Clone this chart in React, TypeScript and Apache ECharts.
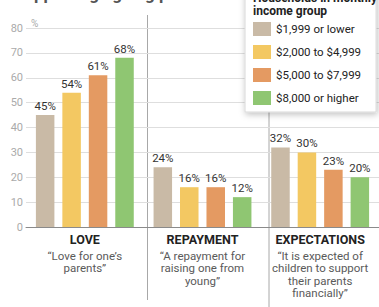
import React, { useEffect, useRef } from "react";
import * as echarts from "echarts";

const categories = ["LOVE", "REPAYMENT", "EXPECTATIONS"];
const descriptions = [
  ["\u201cLove for one\u2019s", "parents\u201d"],
  ["\u201cA repayment for", "raising one from", "young\u201d"],
  ["\u201cIt is expected of", "children to support", "their parents", "financially\u201d"],
];
const seriesNames = ["$1,999 or lower", "$2,000 to $4,999", "$5,000 to $7,999", "$8,000 or higher"];
const lowest = [45, 24, 32];
const lowerMid = [54, 16, 30];
const upperMid = [61, 16, 23];
const highest = [68, 12, 20];
const seriesValues = [lowest, lowerMid, upperMid, highest];
const colors = ["#c9baa6", "#f3c862", "#e49a62", "#8fc672"];
const yTicks = { min: 0, max: 80, interval: 10 };

const FONT = "Roboto";

export default function App() {
  const ref = useRef<HTMLDivElement>(null);
  useEffect(() => {
    if (!ref.current) return;
    const chart = echarts.init(ref.current, null, { renderer: "svg" });
    const gridLeft = 26;
    const gridWidth = 364.5;
    const catW = gridWidth / categories.length;
    const sep1 = gridLeft + catW;
    const sep2 = gridLeft + 2 * catW;
    chart.setOption({
      animation: false,
      textStyle: { fontFamily: FONT },
      grid: { left: gridLeft, width: gridWidth, top: 28, bottom: 80, containLabel: false },
      legend: {
        orient: "vertical",
        left: 245,
        top: -20,
        padding: [42, 15, 7, 8],
        itemWidth: 18,
        itemHeight: 14,
        itemGap: 9,
        backgroundColor: "#ffffff",
        borderColor: "#d8d8d8",
        borderWidth: 1,
        shadowBlur: 6,
        shadowColor: "rgba(0,0,0,0.25)",
        shadowOffsetX: 1,
        shadowOffsetY: 2,
        icon: "rect",
        textStyle: { fontFamily: FONT, fontSize: 11.5, color: "#222" },
        data: seriesNames,
      },
      xAxis: {
        type: "category",
        data: categories,
        axisLine: { lineStyle: { color: "#8a8a8a", width: 1 } },
        axisTick: { show: false },
        axisLabel: {
          interval: 0,
          margin: 5,
          formatter: (v: string) => {
            const i = categories.indexOf(v);
            return ["{t|" + v + "}", "{s| }", ...descriptions[i].map((l) => "{d|" + l + "}")].join("\n");
          },
          rich: {
            t: { fontFamily: FONT, fontWeight: "bold", fontSize: 12.5, color: "#222", lineHeight: 14 },
            s: { fontSize: 3, lineHeight: 3.7 },
            d: { fontFamily: FONT, fontSize: 11.5, color: "#5a5a5a", lineHeight: 12.5 },
          },
        },
      },
      yAxis: {
        type: "value",
        min: yTicks.min,
        max: yTicks.max,
        interval: yTicks.interval,
        name: "%",
        nameLocation: "end",
        nameGap: 0,
        nameTextStyle: { color: "#aaa", fontSize: 10, align: "left", padding: [0, 0, 0, 5] },
        axisLine: { show: false },
        axisTick: { show: false },
        axisLabel: { color: "#aaa", fontSize: 11, margin: 3 },
        splitLine: { lineStyle: { color: "#dedede", width: 1 } },
      },
      series: seriesNames.map((name, k) => ({
        name,
        type: "bar",
        data: seriesValues[k],
        barWidth: 18.5,
        barGap: "43%",
        itemStyle: { color: colors[k] },
        label: {
          show: true,
          position: "top",
          distance: 3,
          formatter: "{c}%",
          color: "#333",
          fontSize: 11.5,
          fontFamily: FONT,
        },
      })),
      graphic: [
        {
          type: "line",
          z: 0,
          shape: { x1: sep1, y1: 15, x2: sep1, y2: 300 },
          style: { stroke: "#a8a8a8", lineWidth: 1 },
        },
        {
          type: "line",
          z: 0,
          shape: { x1: sep2, y1: 15, x2: sep2, y2: 307 },
          style: { stroke: "#a8a8a8", lineWidth: 1 },
        },
        {
          type: "text",
          z: 0,
          x: 14,
          y: 2,
          style: {
            text: "Supporting ageing parents",
            fontFamily: FONT,
            fontSize: 17,
            fontWeight: "bold",
            fill: "#555",
            verticalAlign: "bottom",
          },
        },
        {
          type: "text",
          z: 200,
          zlevel: 0,
          x: 253,
          y: 17,
          style: {
            text: "Households in monthly\nincome group",
            fontFamily: FONT,
            fontSize: 12,
            fontWeight: "bold",
            fill: "#222",
            lineHeight: 12.5,
            verticalAlign: "bottom",
          },
        },
      ],
    });
    return () => chart.dispose();
  }, []);
  return <div ref={ref} style={{ width: 379, height: 307, position: "absolute", left: 0, top: 0 }} />;
}
